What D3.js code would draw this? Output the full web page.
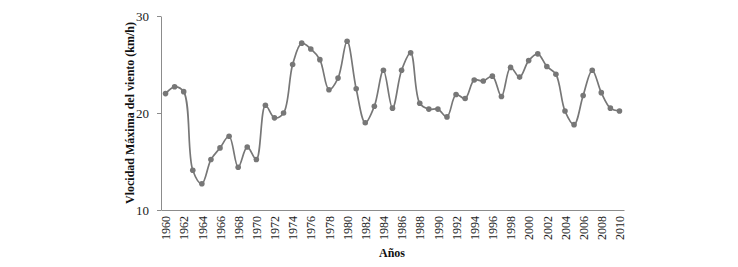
<!DOCTYPE html>
<html>
<head>
<meta charset="utf-8">
<script src="https://cdn.jsdelivr.net/npm/d3@7"></script>
<style>
  body { margin: 0; background: #fff; }
</style>
</head>
<body>
<svg id="svg" width="738" height="267"></svg>
<script>
const years = d3.range(1960, 2011)
const speeds = [
  22.0, 22.7, 22.2, 14.1, 12.7, 15.2, 16.4, 17.6, 14.4, 16.5,
  15.2, 20.8, 19.5, 20.0, 25.0, 27.2, 26.6, 25.5, 22.4, 23.6,
  27.4, 22.5, 19.0, 20.7, 24.4, 20.5, 24.4, 26.2, 21.0, 20.4,
  20.4, 19.6, 21.9, 21.5, 23.4, 23.3, 23.8, 21.7, 24.7, 23.7,
  25.4, 26.1, 24.8, 24.0, 20.2, 18.8, 21.8, 24.4, 22.1, 20.5,
  20.2
]
const yTicks = [10, 20, 30]
const xTicks = years.filter(d => d % 2 === 0)

const data = years.map((y, i) => ({ year: y, value: speeds[i] }))

const svg = d3.select('#svg')
const font = '"Liberation Serif", "Times New Roman", serif'
const grey = '#777777'

const x = d3.scalePoint()
  .domain(years)
  .range([161, 624])
  .padding(0.5)

const y = d3.scaleLinear()
  .domain([10, 30])
  .range([210, 16])

// y axis
const yAxis = svg.append('g')
  .attr('transform', 'translate(161, 0)')
  .call(d3.axisLeft(y).tickValues(yTicks).tickSize(4).tickSizeOuter(0).tickPadding(8))
yAxis.select('.domain').attr('stroke', '#8c8c8c')
yAxis.selectAll('.tick line').attr('stroke', '#8c8c8c')
yAxis.selectAll('text')
  .style('font-family', font)
  .style('font-size', '13px')
  .attr('fill', '#222')

// x axis
const xAxis = svg.append('g')
  .attr('transform', 'translate(0, 210)')
  .call(d3.axisBottom(x).tickValues(xTicks).tickSize(0).tickSizeOuter(0))
xAxis.select('.domain').attr('stroke', '#8c8c8c')
xAxis.selectAll('text')
  .style('font-family', font)
  .style('font-size', '12px')
  .attr('fill', '#222')
  .attr('transform', 'rotate(-90)')
  .attr('text-anchor', 'end')
  .attr('dy', '0.35em')
  .attr('x', -6)
  .attr('y', 0)

// line
const line = d3.line()
  .x(d => x(d.year))
  .y(d => y(d.value))
  .curve(d3.curveCatmullRom.alpha(0.5))

svg.append('path')
  .datum(data)
  .attr('d', line)
  .attr('fill', 'none')
  .attr('stroke', grey)
  .attr('stroke-width', 1.7)

svg.selectAll('circle')
  .data(data)
  .join('circle')
  .attr('cx', d => x(d.year))
  .attr('cy', d => y(d.value))
  .attr('r', 2.8)
  .attr('fill', grey)

// axis titles
svg.append('text')
  .text('Vlocidad Máxima del viento (km/h)')
  .attr('transform', 'translate(130, 113) rotate(-90)')
  .attr('text-anchor', 'middle')
  .attr('dy', '0.35em')
  .style('font-family', font)
  .style('font-size', '12px')
  .style('font-weight', 'bold')
  .attr('fill', '#111')

svg.append('text')
  .text('Años')
  .attr('x', 392)
  .attr('y', 257)
  .attr('text-anchor', 'middle')
  .style('font-family', font)
  .style('font-size', '12px')
  .style('font-weight', 'bold')
  .attr('fill', '#111')
</script>
</body>
</html>
